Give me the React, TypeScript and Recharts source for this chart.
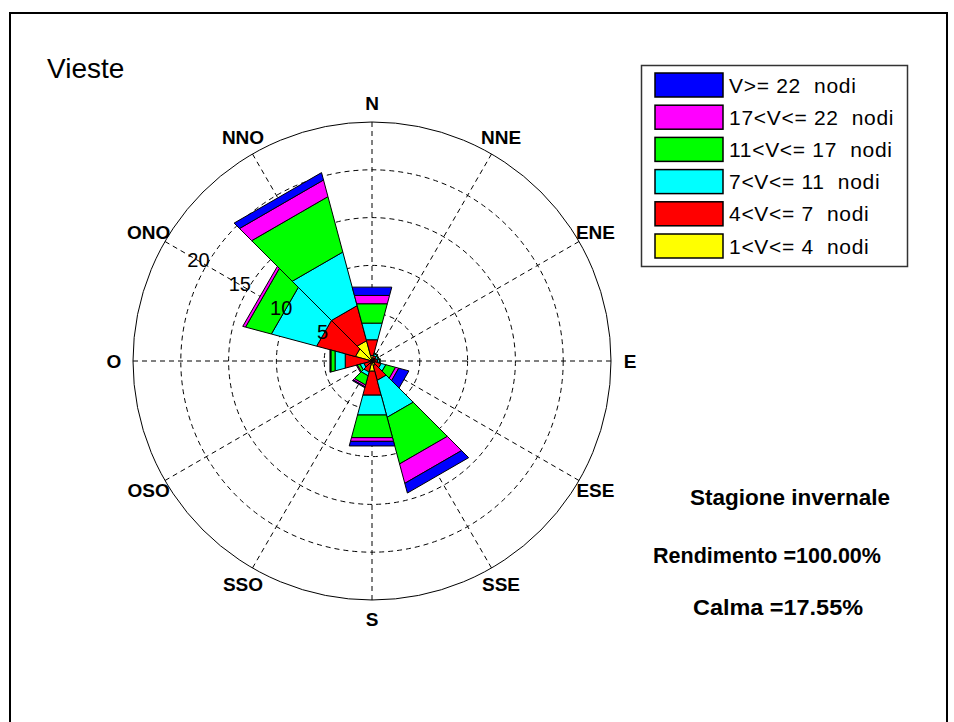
import {
  RadialBarChart,
  RadialBar,
  PolarAngleAxis,
  PolarRadiusAxis,
  PolarGrid,
} from "recharts";

// settori di direzione (bussola, 30 gradi ciascuno)
const directions = ["N", "NNE", "ENE", "E", "ESE", "SSE", "S", "SSO", "OSO", "O", "ONO", "NNO"];

// frequenze (%) per classe di velocità
const v1to4 = [0.6, 0.3, 0.3, 0.3, 0.3, 0.5, 1.1, 0.3, 0.2, 0.3, 1.8, 2.2];
const v4to7 = [1.7, 0.3, 0.2, 0.3, 0.7, 1.6, 2.6, 0.9, 0.7, 2.6, 4.2, 3.8];
const v7to11 = [1.8, 0.2, 0.2, 0.2, 0.5, 4.0, 2.15, 0.4, 0.4, 1.1, 4.9, 5.8];
const v11to17 = [2.1, 0.1, 0.1, 0.1, 1.05, 5.05, 2.45, 1.0, 0.3, 0.45, 2.8, 6.0];
const v17to22 = [0.9, 0, 0, 0, 0.35, 2.1, 0.4, 0.2, 0.1, 0.05, 0.3, 1.8];
const v22plus = [0.9, 0, 0, 0, 1.1, 1.05, 0.5, 0.1, 0, 0.05, 0, 0.8];

const radiusTicks = [5, 10, 15, 20];
const gridCompass = [0, 30, 60, 90, 120, 150, 180, 210, 240, 270, 300, 330];

const series = [
  { key: "v1to4", name: "1<V<= 4  nodi", color: "#ffff00", values: v1to4 },
  { key: "v4to7", name: "4<V<= 7  nodi", color: "#ff0000", values: v4to7 },
  { key: "v7to11", name: "7<V<= 11  nodi", color: "#00ffff", values: v7to11 },
  { key: "v11to17", name: "11<V<= 17  nodi", color: "#00ff00", values: v11to17 },
  { key: "v17to22", name: "17<V<= 22  nodi", color: "#ff00ff", values: v17to22 },
  { key: "v22plus", name: "V>= 22  nodi", color: "#0000ff", values: v22plus },
];

const data = directions.map((dir, i) => {
  const row: any = { dir };
  series.forEach((s) => (row[s.key] = s.values[i]));
  return row;
});

const FONT = "'Liberation Sans', Arial, sans-serif";
const CX = 372;
const CY = 361;
const R = 239;

// settore disegnato a lati dritti come nell'originale
const Wedge = (p: any) => {
  const { cx, cy, innerRadius, outerRadius, startAngle, endAngle, fill } = p;
  if (!(outerRadius - innerRadius > 0.01)) return <g />;
  const pt = (r: number, a: number) => {
    const rad = (-a * Math.PI) / 180;
    return `${cx + r * Math.cos(rad)},${cy + r * Math.sin(rad)}`;
  };
  const pts = [
    pt(innerRadius, startAngle),
    pt(outerRadius, startAngle),
    pt(outerRadius, endAngle),
    pt(innerRadius, endAngle),
  ].join(" ");
  return <polygon points={pts} fill={fill} stroke="#000" strokeWidth={1} strokeLinejoin="miter" />;
};

// etichetta al centro del settore (inizio banda + metà ampiezza)
const DirTick = (p: any) => {
  const a = ((-(p.payload.coordinate + 15)) * Math.PI) / 180;
  return (
    <text
      x={CX + 258 * Math.cos(a)}
      y={CY + 258 * Math.sin(a)}
      textAnchor="middle"
      dominantBaseline="central"
      fontFamily={FONT}
      fontWeight="bold"
      fontSize={19}
      fill="#000"
    >
      {p.payload.value}
    </text>
  );
};

const RadTick = (p: any) => (
  <text
    x={p.x - 8}
    y={p.y - 5}
    textAnchor="middle"
    dominantBaseline="central"
    fontFamily={FONT}
    fontSize={20}
    fill="#000"
  >
    {p.payload.value}
  </text>
);

const legendRows = [...series].reverse();

export default function App() {
  return (
    <div
      style={{
        position: "absolute",
        left: 0,
        top: 0,
        width: 954,
        height: 722,
        overflow: "hidden",
        background: "#fff",
      }}
    >
      <RadialBarChart
        width={954}
        height={722}
        data={data}
        layout="centric"
        cx={CX}
        cy={CY}
        innerRadius={0}
        outerRadius={R}
        startAngle={75}
        endAngle={-285}
        barCategoryGap={0}
        barGap={0}
        margin={{ top: 0, right: 0, bottom: 0, left: 0 }}
      >
        <PolarGrid
          gridType="circle"
          polarAngles={gridCompass.map((c) => 90 - c)}
          stroke="#000"
          strokeDasharray="5 4"
        />
        <PolarAngleAxis
          dataKey="dir"
          type="category"
          axisLineType="circle"
          axisLine={{ stroke: "#000", strokeWidth: 1 }}
          tickLine={false}
          tick={DirTick}
        />
        <PolarRadiusAxis
          type="number"
          domain={[0, 25]}
          ticks={radiusTicks}
          angle={150}
          axisLine={false}
          tickLine={false}
          tick={RadTick}
        />
        {series.map((s) => (
          <RadialBar
            key={s.key}
            dataKey={s.key}
            name={s.name}
            stackId="a"
            fill={s.color}
            shape={Wedge}
            isAnimationActive={false}
          />
        ))}
      </RadialBarChart>

      <svg
        width={954}
        height={722}
        style={{ position: "absolute", left: 0, top: 0, pointerEvents: "none" }}
      >
        <path d="M10,740 L10,13 L947,13 L947,740" fill="none" stroke="#000" strokeWidth={2} />
        <text x={47} y={68} dominantBaseline="central" fontFamily={FONT} fontSize={28} fill="#000">
          Vieste
        </text>

        <rect x={641.5} y={65.5} width={266} height={201} fill="#fff" stroke="#333" strokeWidth={1.5} />
        {legendRows.map((s, i) => (
          <g key={s.key}>
            <rect x={655} y={73 + i * 32.2} width={68} height={24} fill={s.color} stroke="#000" strokeWidth={1.5} />
            <text
              x={729}
              y={85 + i * 32.2}
              dominantBaseline="central"
              fontFamily={FONT}
              fontSize={21}
              letterSpacing={0.7}
              fill="#000"
              style={{ whiteSpace: "pre" }}
            >
              {s.name}
            </text>
          </g>
        ))}

        <g fontFamily={FONT} fontWeight="bold" fontSize={22} fill="#000" textAnchor="middle">
          <text x={790} y={497} dominantBaseline="central" textLength={200} lengthAdjust="spacingAndGlyphs">
            Stagione invernale
          </text>
          <text x={767} y={555} dominantBaseline="central" textLength={228} lengthAdjust="spacingAndGlyphs">
            Rendimento =100.00%
          </text>
          <text x={778} y={607} dominantBaseline="central" textLength={170} lengthAdjust="spacingAndGlyphs">
            Calma =17.55%
          </text>
        </g>
      </svg>
    </div>
  );
}
